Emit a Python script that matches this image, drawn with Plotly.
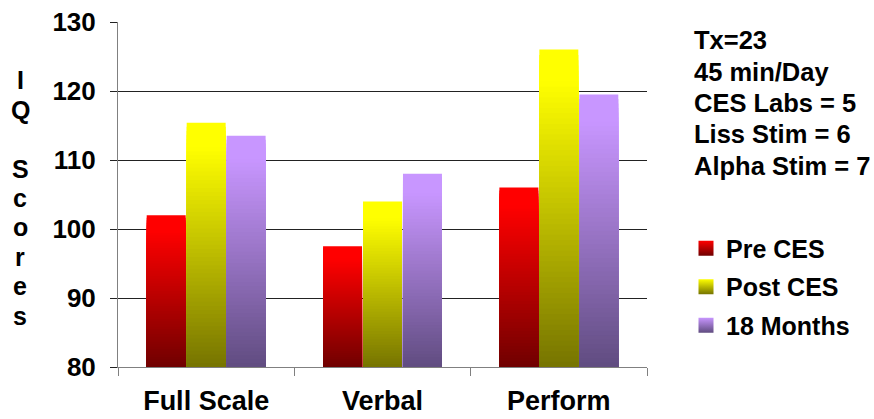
import plotly.graph_objects as go

# IQ scores before CES, after CES and at 18-month follow-up
categories = ["Full Scale", "Verbal", "Perform"]
series_names = ["Pre CES", "Post CES", "18 Months"]
pre_ces = [102.0, 97.5, 106.0]
post_ces = [115.4, 104.0, 126.0]
months_18 = [113.5, 108.0, 119.5]
y_ticks = [80, 90, 100, 110, 120, 130]
note_lines = ["Tx=23", "45 min/Day", "CES Labs = 5", "Liss Stim = 6", "Alpha Stim = 7"]
title_letters = ["I", "Q", "", "S", "c", "o", "r", "e", "s"]

series_values = [pre_ces, post_ces, months_18]
# (bright top colour, dark bottom colour) per series
series_colors = [
    ((255, 0, 0), (112, 0, 0)),
    ((255, 255, 0), (118, 116, 0)),
    ((200, 150, 255), (96, 76, 128)),
]

BASE = y_ticks[0]
N_LAYERS = 60
FONT = "Liberation Sans, Arial, sans-serif"

W, H = 874, 419
M_L, M_R, M_T, M_B = 118, 227, 21.5, 52.3
PLOT_W = W - M_L - M_R
PLOT_H = H - M_T - M_B


def px_x(px):
    return (px - M_L) / PLOT_W


def px_y(py):
    return 1 - (py - M_T) / PLOT_H


def shade(top, bottom, t):
    """Colour at relative depth t (0 = top of bar, 1 = bottom)."""
    s = max(0.0, (t - 0.1) / 0.9)
    r, g, b = (round(a + (c - a) * s) for a, c in zip(top, bottom))
    return f"rgb({r},{g},{b})"


fig = go.Figure()

# Each bar is a stack of overlapping layers, tallest first, each one a bit
# shorter and darker, which gives a vertical gradient fill.
for name, values, (top, bottom) in zip(series_names, series_values, series_colors):
    for k in range(N_LAYERS):
        frac = (N_LAYERS - k) / N_LAYERS
        fig.add_trace(go.Bar(
            x=categories,
            y=[(v - BASE) * frac for v in values],
            base=BASE,
            offsetgroup=name,
            marker=dict(color=shade(top, bottom, (k + 0.5) / N_LAYERS),
                        line=dict(width=0)),
            showlegend=False,
            hoverinfo="skip",
        ))

# Legend entries with gradient swatches
for i, (name, (top, bottom)) in enumerate(zip(series_names, series_colors)):
    fig.add_trace(go.Scatter(
        x=[None], y=[None], mode="markers", name=name,
        legendgroup=f"g{i}",
        marker=dict(symbol="square", size=15,
                    color="rgb(%d,%d,%d)" % top,
                    gradient=dict(type="vertical", color="rgb(%d,%d,%d)" % bottom)),
    ))

fig.update_layout(
    width=W, height=H,
    margin=dict(l=M_L, r=M_R, t=M_T, b=M_B, autoexpand=False),
    paper_bgcolor="white", plot_bgcolor="white",
    barmode="group", bargap=0.32, bargroupgap=0.025,
    font=dict(family=FONT, color="black", size=24),
    showlegend=True,
    legend=dict(
        x=px_x(686), xanchor="left", y=px_y(225), yanchor="top",
        font=dict(family=FONT, size=25, weight="bold", color="black"),
        tracegroupgap=3, itemclick=False, itemdoubleclick=False,
        bgcolor="rgba(0,0,0,0)",
    ),
    hovermode=False,
)

fig.update_xaxes(
    type="category", categoryorder="array", categoryarray=categories,
    showline=True, linecolor="#808080", linewidth=1,
    ticks="outside", tickson="boundaries", ticklen=8, tickcolor="#808080",
    showgrid=False, ticklabelstandoff=10,
    tickfont=dict(family=FONT, size=27, weight="bold", color="black"),
)
fig.update_yaxes(
    range=[y_ticks[0], y_ticks[-1]], tickvals=y_ticks,
    showline=True, linecolor="#808080", linewidth=1,
    ticks="outside", ticklen=7, tickcolor="#222222",
    showgrid=True, gridcolor="#222222", gridwidth=1, zeroline=False,
    ticklabelstandoff=9,
    tickfont=dict(family=FONT, size=26, weight="bold", color="black"),
)

# Vertical axis title, one letter per line
for i, letter in enumerate(title_letters):
    if not letter:
        continue
    fig.add_annotation(
        xref="paper", yref="paper", x=px_x(20), y=px_y(80 + i * 29.4),
        xanchor="center", yanchor="middle", showarrow=False,
        text=letter,
        font=dict(family=FONT, size=25, weight="bold", color="black"),
    )

# Treatment notes
for i, line in enumerate(note_lines):
    fig.add_annotation(
        xref="paper", yref="paper", x=px_x(692), y=px_y(40 + i * 31.3),
        xanchor="left", yanchor="middle", showarrow=False,
        text=line,
        font=dict(family=FONT, size=25.5, weight="bold", color="black"),
    )

fig.write_html("out.html")
